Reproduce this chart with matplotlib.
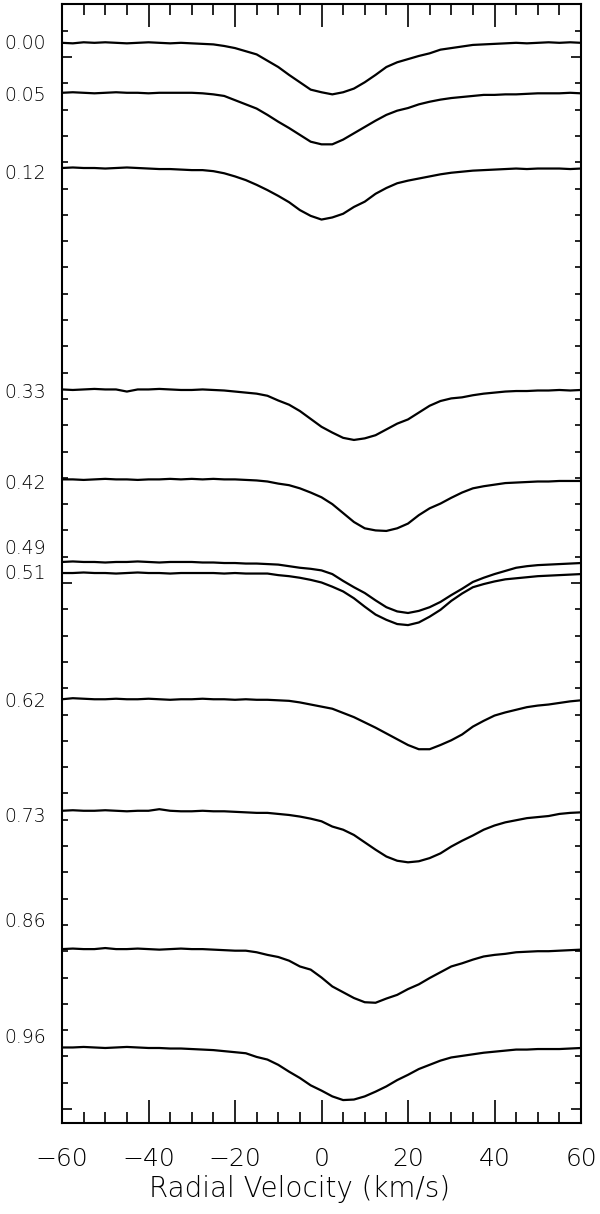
#!/usr/bin/env python3

import matplotlib
matplotlib.use("Agg")
import matplotlib.pyplot as plt
from matplotlib.ticker import MultipleLocator
from matplotlib.transforms import blended_transform_factory

# Velocity grid (km/s)
velocity = [-60, -57.5, -55, -52.5, -50, -47.5, -45, -42.5, -40, -37.5, -35, -32.5,
            -30, -27.5, -25, -22.5, -20, -17.5, -15, -12.5, -10, -7.5, -5, -2.5,
            0, 2.5, 5, 7.5, 10, 12.5, 15, 17.5, 20, 22.5, 25, 27.5, 30, 32.5,
            35, 37.5, 40, 42.5, 45, 47.5, 50, 52.5, 55, 57.5, 60]

# Orbital phases of each profile
phases = ["0.00", "0.05", "0.12", "0.33", "0.42", "0.49", "0.51",
          "0.62", "0.73", "0.86", "0.96"]

# Vertical offset added to each normalised profile
offsets = [0.027, -0.068, -0.211, -0.632, -0.803, -0.960, -0.981,
           -1.221, -1.433, -1.696, -1.883]

# Normalised line profiles (flux), one per phase
prof_000 = [1.000, 0.999, 1.001, 1.000, 1.001, 1.000, 0.999, 1.000, 1.001, 1.000, 0.999, 1.000,
            0.999, 0.998, 0.997, 0.994, 0.990, 0.984, 0.978, 0.966, 0.954, 0.939, 0.925, 0.911,
            0.906, 0.902, 0.906, 0.913, 0.925, 0.939, 0.954, 0.963, 0.969, 0.975, 0.980, 0.987,
            0.990, 0.993, 0.996, 0.997, 0.998, 0.999, 1.000, 0.999, 1.000, 1.001, 1.000, 1.001, 1.000]
prof_005 = [1.000, 1.001, 1.000, 0.999, 1.000, 1.001, 1.000, 1.000, 0.999, 1.000, 1.000, 1.000,
            1.000, 0.999, 0.997, 0.994, 0.986, 0.978, 0.970, 0.958, 0.945, 0.933, 0.920, 0.907,
            0.902, 0.902, 0.911, 0.923, 0.935, 0.947, 0.958, 0.966, 0.971, 0.978, 0.983, 0.987,
            0.990, 0.992, 0.994, 0.996, 0.996, 0.997, 0.997, 0.998, 0.999, 0.999, 0.999, 1.000, 0.999]
prof_012 = [1.000, 1.001, 1.000, 1.000, 0.999, 1.000, 1.001, 1.000, 0.999, 0.998, 0.998, 0.997,
            0.996, 0.996, 0.994, 0.990, 0.984, 0.977, 0.968, 0.958, 0.947, 0.935, 0.920, 0.909,
            0.902, 0.906, 0.913, 0.926, 0.936, 0.951, 0.962, 0.971, 0.976, 0.980, 0.984, 0.988,
            0.991, 0.993, 0.995, 0.996, 0.997, 0.998, 0.999, 0.998, 0.999, 0.999, 0.999, 0.998, 0.999]
prof_033 = [1.000, 0.999, 1.000, 1.001, 1.000, 1.000, 0.996, 1.000, 1.000, 1.001, 1.000, 0.999,
            0.999, 1.000, 0.999, 0.998, 0.996, 0.994, 0.992, 0.988, 0.979, 0.971, 0.959, 0.944,
            0.929, 0.918, 0.908, 0.904, 0.907, 0.913, 0.924, 0.935, 0.943, 0.956, 0.969, 0.978,
            0.983, 0.985, 0.989, 0.992, 0.994, 0.996, 0.997, 0.997, 0.998, 0.998, 0.999, 0.998, 0.999]
prof_042 = [1.000, 1.000, 0.999, 1.000, 1.001, 1.000, 1.000, 0.999, 1.000, 1.000, 1.001, 1.000,
            1.001, 1.000, 1.001, 1.000, 1.000, 0.999, 0.998, 0.996, 0.992, 0.989, 0.983, 0.975,
            0.966, 0.953, 0.936, 0.919, 0.907, 0.903, 0.902, 0.907, 0.916, 0.932, 0.945, 0.954,
            0.965, 0.975, 0.983, 0.987, 0.990, 0.993, 0.994, 0.995, 0.996, 0.996, 0.997, 0.997, 0.997]
prof_049 = [1.000, 1.001, 1.000, 1.000, 0.999, 1.000, 1.000, 1.001, 1.000, 0.999, 1.000, 1.000,
            1.000, 0.999, 0.999, 0.998, 0.998, 0.997, 0.997, 0.996, 0.995, 0.992, 0.989, 0.987,
            0.984, 0.977, 0.964, 0.952, 0.941, 0.927, 0.914, 0.906, 0.903, 0.907, 0.914, 0.924,
            0.937, 0.949, 0.962, 0.970, 0.977, 0.983, 0.989, 0.992, 0.994, 0.995, 0.996, 0.997, 0.998]
prof_051 = [1.000, 1.000, 1.001, 1.000, 1.000, 0.999, 1.000, 1.001, 1.000, 1.000, 0.999, 1.000,
            1.000, 1.000, 1.000, 0.999, 1.000, 0.999, 0.999, 0.999, 0.996, 0.994, 0.991, 0.987,
            0.982, 0.974, 0.965, 0.952, 0.936, 0.921, 0.911, 0.903, 0.901, 0.906, 0.917, 0.930,
            0.947, 0.961, 0.973, 0.979, 0.984, 0.988, 0.990, 0.992, 0.994, 0.995, 0.996, 0.997, 0.998]
prof_062 = [1.000, 1.002, 1.001, 1.000, 1.000, 1.001, 1.000, 1.000, 1.001, 1.000, 0.999, 1.000,
            1.000, 1.001, 1.000, 1.000, 0.999, 1.000, 0.999, 0.999, 0.998, 0.997, 0.994, 0.990,
            0.986, 0.982, 0.974, 0.966, 0.956, 0.946, 0.935, 0.924, 0.913, 0.905, 0.905, 0.913,
            0.922, 0.933, 0.948, 0.959, 0.969, 0.975, 0.980, 0.985, 0.988, 0.990, 0.993, 0.996, 0.998]
prof_073 = [1.000, 1.001, 1.000, 1.000, 1.001, 1.000, 0.999, 1.000, 1.000, 1.003, 1.000, 0.999,
            0.999, 1.000, 0.999, 0.999, 0.998, 0.997, 0.996, 0.996, 0.994, 0.992, 0.989, 0.985,
            0.980, 0.970, 0.964, 0.954, 0.940, 0.926, 0.913, 0.905, 0.902, 0.904, 0.910, 0.919,
            0.932, 0.943, 0.953, 0.964, 0.972, 0.978, 0.982, 0.986, 0.988, 0.990, 0.994, 0.996, 0.997]
prof_086 = [1.000, 1.001, 1.000, 1.000, 1.002, 1.000, 1.000, 1.001, 1.000, 0.999, 1.000, 1.001,
            1.000, 1.000, 0.999, 0.998, 0.997, 0.997, 0.994, 0.989, 0.985, 0.978, 0.967, 0.961,
            0.946, 0.929, 0.918, 0.907, 0.899, 0.898, 0.906, 0.913, 0.924, 0.933, 0.945, 0.956,
            0.967, 0.973, 0.980, 0.986, 0.989, 0.991, 0.994, 0.995, 0.996, 0.996, 0.997, 0.998, 0.999]
prof_096 = [1.000, 1.000, 1.001, 1.000, 0.999, 1.000, 1.001, 1.000, 0.999, 0.999, 0.998, 0.998,
            0.997, 0.996, 0.995, 0.993, 0.991, 0.989, 0.982, 0.977, 0.967, 0.954, 0.942, 0.928,
            0.918, 0.907, 0.900, 0.901, 0.907, 0.916, 0.926, 0.938, 0.948, 0.959, 0.967, 0.975,
            0.981, 0.984, 0.987, 0.990, 0.992, 0.994, 0.996, 0.996, 0.997, 0.997, 0.997, 0.998, 0.999]

profiles = [prof_000, prof_005, prof_012, prof_033, prof_042, prof_049, prof_051,
            prof_062, prof_073, prof_086, prof_096]

# Where the phase labels sit (data y), nudged apart where profiles crowd
label_y = [1.025, 0.926, 0.779, 0.363, 0.190, 0.066, 0.019,
           -0.226, -0.443, -0.644, -0.865]

fig = plt.figure(figsize=(6, 12.14), dpi=100)
ax = fig.add_axes([62 / 600, 1 - 1123 / 1214, 519 / 600, 1119 / 1214])

# Plot each profile shifted by its offset
for prof, off in zip(profiles, offsets):
    ax.plot(velocity, [f + off for f in prof], color="black", lw=1.6)

ax.set_xlim(-60, 60)
ax.set_ylim(-1.0266, 1.1008)

# Ticks inside on all sides, no y labels
ax.xaxis.set_major_locator(MultipleLocator(20))
ax.xaxis.set_minor_locator(MultipleLocator(5))
ax.yaxis.set_major_locator(MultipleLocator(1.0))
ax.yaxis.set_minor_locator(MultipleLocator(0.05))
ax.tick_params(axis="x", which="both", direction="in", top=True, bottom=True,
               width=1.2, labelsize=18, pad=17)
ax.tick_params(axis="x", which="major", length=16.5)
ax.tick_params(axis="x", which="minor", length=8)
ax.tick_params(axis="y", which="both", direction="in", left=True, right=True,
               width=1.2, labelleft=False)
ax.tick_params(axis="y", which="major", length=7.5)
ax.tick_params(axis="y", which="minor", length=4.5)
for s in ax.spines.values():
    s.set_linewidth(1.5)
for lab in ax.get_xticklabels():
    lab.set_fontweight("light")

# Axis title is centred on the page, not on the axes
fig.text(0.5, 1 - 1197 / 1214, "Radial Velocity (km/s)", ha="center",
         va="baseline", fontsize=20, fontweight="light")

# Phase labels at the left, outside the axes
trans = blended_transform_factory(fig.transFigure, ax.transData)
for name, y in zip(phases, label_y):
    fig.text(4 / 600, y, name, transform=trans, ha="left", va="center",
             fontsize=13.5, fontweight="light")

fig.savefig("out.png", dpi=100)
